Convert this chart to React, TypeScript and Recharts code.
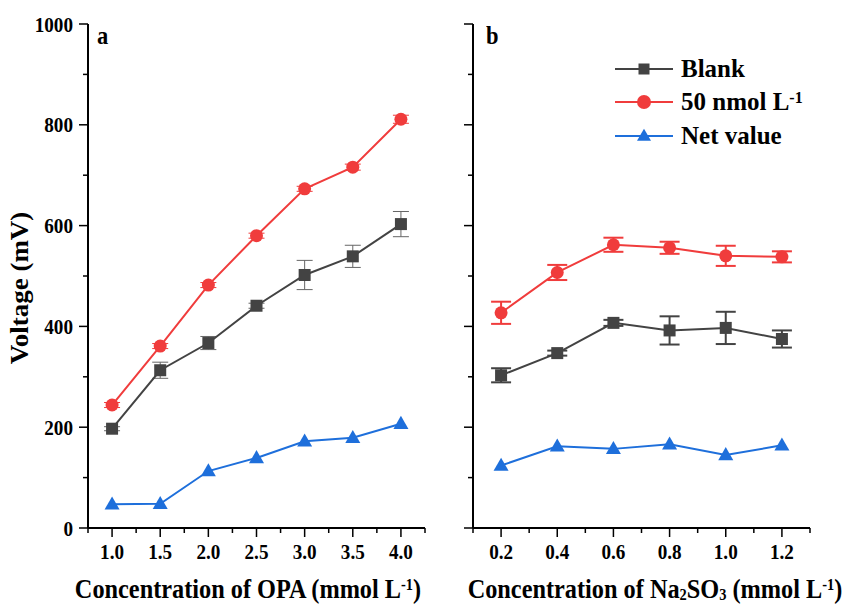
import { LineChart, Line, XAxis, YAxis, ErrorBar, Legend } from 'recharts'

const FONT = '"Liberation Serif", "Times New Roman", serif'
const GRAY = '#434343'
const RED = '#f03c3c'
const BLUE = '#1e6fdb'

// panel a: OPA concentration (mmol/L)
const opaX = [1.0, 1.5, 2.0, 2.5, 3.0, 3.5, 4.0]
const opaBlank = [197, 313, 367, 441, 502, 539, 603]
const opaBlankErr = [4, 16, 13, 5, 29, 22, 25]
const opaSignal = [244, 361, 482, 580, 673, 716, 811]
const opaSignalErr = [5, 5, 5, 5, 5, 6, 8]
const opaNet = [47, 48, 113, 139, 172, 179, 207]
const opaTicks = [0.75, 1.0, 1.25, 1.5, 1.75, 2.0, 2.25, 2.5, 2.75, 3.0, 3.25, 3.5, 3.75, 4.0, 4.25]

// panel b: Na2SO3 concentration (mmol/L)
const sulfX = [0.2, 0.4, 0.6, 0.8, 1.0, 1.2]
const sulfBlank = [303, 347, 407, 392, 397, 375]
const sulfBlankErr = [14, 5, 6, 28, 32, 17]
const sulfSignal = [427, 507, 562, 556, 540, 538]
const sulfSignalErr = [22, 15, 14, 12, 20, 11]
const sulfNet = [124, 162, 157, 166, 145, 164]
const sulfTicks = [0.1, 0.2, 0.3, 0.4, 0.5, 0.6, 0.7, 0.8, 0.9, 1.0, 1.1, 1.2, 1.3]

const yTicks = [0, 100, 200, 300, 400, 500, 600, 700, 800, 900, 1000]

const legendOrder = ['blank', 'signal', 'net']

const opaData = opaX.map((x, i) => ({
  x,
  blank: opaBlank[i],
  blankErr: opaBlankErr[i],
  signal: opaSignal[i],
  signalErr: opaSignalErr[i],
  net: opaNet[i],
}))

const sulfData = sulfX.map((x, i) => ({
  x,
  blank: sulfBlank[i],
  blankErr: sulfBlankErr[i],
  signal: sulfSignal[i],
  signalErr: sulfSignalErr[i],
  net: sulfNet[i],
}))

const Square = ({ cx, cy, fill, size = 12 }: any) =>
  cx == null ? null : <rect x={cx - size / 2} y={cy - size / 2} width={size} height={size} fill={fill} />

const Circle = ({ cx, cy, fill, size = 13 }: any) =>
  cx == null ? null : <circle cx={cx} cy={cy} r={size / 2} fill={fill} />

const Triangle = ({ cx, cy, fill, size = 15 }: any) => {
  if (cx == null) return null
  const h = size * 0.87
  return (
    <polygon
      points={`${cx},${cy - h * 0.6} ${cx - size / 2},${cy + h * 0.4} ${cx + size / 2},${cy + h * 0.4}`}
      fill={fill}
    />
  )
}

const markerFor: Record<string, any> = { blank: Square, signal: Circle, net: Triangle }

const makeXTick = (isMajor: (v: number) => boolean, fmt: (v: number) => string) =>
  (props: any) => {
    const { x, y, payload } = props
    const major = isMajor(payload.value)
    return (
      <g>
        <line x1={x} x2={x} y1={y} y2={y + (major ? 9 : 5)} stroke="#000" strokeWidth={1.5} />
        {major && (
          <text
            transform={`translate(${x},${y + 31}) scale(0.87,1)`}
            textAnchor="middle"
            fontFamily={FONT}
            fontWeight="bold"
            fontSize={22}
            fill="#000"
          >
            {fmt(payload.value)}
          </text>
        )}
      </g>
    )
  }

const makeYTick = (showLabel: boolean) => (props: any) => {
  const { x, y, payload } = props
  const major = payload.value % 200 === 0
  return (
    <g>
      <line x1={x - (major ? 9 : 5)} x2={x} y1={y} y2={y} stroke="#000" strokeWidth={1.5} />
      {showLabel && major && (
        <text
          transform={`translate(${x - 15},${y + 7.5}) scale(0.87,1)`}
          textAnchor="end"
          fontFamily={FONT}
          fontWeight="bold"
          fontSize={22}
          fill="#000"
        >
          {payload.value}
        </text>
      )}
    </g>
  )
}

const opaTick = makeXTick((v) => Math.abs(v * 2 - Math.round(v * 2)) < 1e-6, (v) => v.toFixed(1))
const sulfTick = makeXTick((v) => Math.round(v * 10) % 2 === 0, (v) => v.toFixed(1))

const supStyle: any = { fontSize: 16, verticalAlign: 'top', position: 'relative', top: -4 }
const subStyle: any = { fontSize: 16, verticalAlign: 'bottom', position: 'relative', top: 6 }

const legendLabels: Record<string, any> = {
  blank: 'Blank',
  signal: (
    <>
      50 nmol L<sup style={supStyle}>-1</sup>
    </>
  ),
  net: 'Net value',
}

const renderLegend = (props: any) => {
  const items = [...(props.payload || [])].sort(
    (a: any, b: any) => legendOrder.indexOf(a.dataKey) - legendOrder.indexOf(b.dataKey)
  )
  return (
    <div style={{ fontFamily: FONT, fontWeight: 'bold', fontSize: 25, color: '#000' }}>
      {items.map((entry: any, index: number) => {
        const Marker = markerFor[entry.dataKey]
        return (
          <div key={index} style={{ display: 'flex', alignItems: 'center', height: 33.5 }}>
            <svg width={60} height={20} style={{ marginRight: 6 }}>
              <line x1={0} x2={58} y1={10} y2={10} stroke={entry.color} strokeWidth={2} />
              <Marker cx={29} cy={10} fill={entry.color} size={entry.dataKey === 'blank' ? 11 : 14} />
            </svg>
            <span style={{ lineHeight: '30px' }}>{legendLabels[entry.dataKey]}</span>
          </div>
        )
      })}
    </div>
  )
}

const titleStyle: any = {
  position: 'absolute',
  fontFamily: FONT,
  fontWeight: 'bold',
  fontSize: 27,
  color: '#000',
  whiteSpace: 'nowrap',
  lineHeight: '30px',
}

export default function App() {
  return (
    <div style={{ position: 'absolute', left: 0, top: 0, width: 843, height: 605, background: '#fff' }}>
      <div style={{ position: 'absolute', left: 0, top: 0 }}>
        <LineChart width={430} height={605} data={opaData} margin={{ top: 24, right: 5, bottom: 0, left: 0 }}>
          <XAxis
            type="number"
            dataKey="x"
            domain={[0.75, 4.25]}
            ticks={opaTicks}
            interval={0}
            height={77}
            tickSize={0}
            tickMargin={0}
            tickLine={false}
            tick={opaTick}
            axisLine={{ stroke: '#000', strokeWidth: 2 }}
          />
          <YAxis
            type="number"
            domain={[0, 1000]}
            ticks={yTicks}
            interval={0}
            width={88}
            tickSize={0}
            tickMargin={0}
            tickLine={false}
            tick={makeYTick(true)}
            axisLine={{ stroke: '#000', strokeWidth: 2 }}
          />
          <Line
            dataKey="blank"
            stroke={GRAY}
            strokeWidth={2}
            isAnimationActive={false}
            activeDot={false}
            dot={(p: any) => <Square key={`ab-${p.index}`} cx={p.cx} cy={p.cy} fill={GRAY} />}
          >
            <ErrorBar dataKey="blankErr" direction="y" width={8} stroke="#666" strokeWidth={1} />
          </Line>
          <Line
            dataKey="signal"
            stroke={RED}
            strokeWidth={2}
            isAnimationActive={false}
            activeDot={false}
            dot={(p: any) => <Circle key={`as-${p.index}`} cx={p.cx} cy={p.cy} fill={RED} />}
          >
            <ErrorBar dataKey="signalErr" direction="y" width={8} stroke={RED} strokeWidth={1} />
          </Line>
          <Line
            dataKey="net"
            stroke={BLUE}
            strokeWidth={2}
            isAnimationActive={false}
            activeDot={false}
            dot={(p: any) => <Triangle key={`an-${p.index}`} cx={p.cx} cy={p.cy} fill={BLUE} />}
          />
        </LineChart>
      </div>

      <div style={{ position: 'absolute', left: 430, top: 0 }}>
        <LineChart width={413} height={605} data={sulfData} margin={{ top: 24, right: 33, bottom: 0, left: 0 }}>
          <XAxis
            type="number"
            dataKey="x"
            domain={[0.1, 1.3]}
            ticks={sulfTicks}
            interval={0}
            height={77}
            tickSize={0}
            tickMargin={0}
            tickLine={false}
            tick={sulfTick}
            axisLine={{ stroke: '#000', strokeWidth: 2 }}
          />
          <YAxis
            type="number"
            domain={[0, 1000]}
            ticks={yTicks}
            interval={0}
            width={43}
            tickSize={0}
            tickMargin={0}
            tickLine={false}
            tick={makeYTick(false)}
            axisLine={{ stroke: '#000', strokeWidth: 2 }}
          />
          <Line
            dataKey="blank"
            name="Blank"
            stroke={GRAY}
            strokeWidth={2}
            isAnimationActive={false}
            activeDot={false}
            dot={(p: any) => <Square key={`bb-${p.index}`} cx={p.cx} cy={p.cy} fill={GRAY} />}
          >
            <ErrorBar dataKey="blankErr" direction="y" width={10} stroke={GRAY} strokeWidth={2} />
          </Line>
          <Line
            dataKey="signal"
            name="50 nmol L-1"
            stroke={RED}
            strokeWidth={2}
            isAnimationActive={false}
            activeDot={false}
            dot={(p: any) => <Circle key={`bs-${p.index}`} cx={p.cx} cy={p.cy} fill={RED} />}
          >
            <ErrorBar dataKey="signalErr" direction="y" width={10} stroke={RED} strokeWidth={2} />
          </Line>
          <Line
            dataKey="net"
            name="Net value"
            stroke={BLUE}
            strokeWidth={2}
            isAnimationActive={false}
            activeDot={false}
            dot={(p: any) => <Triangle key={`bn-${p.index}`} cx={p.cx} cy={p.cy} fill={BLUE} />}
          />
          <Legend
            layout="vertical"
            align="center"
            verticalAlign="middle"
            content={renderLegend}
            wrapperStyle={{ left: 185, top: 52, width: 'auto', height: 'auto' }}
          />
        </LineChart>
      </div>

      <div style={{ ...titleStyle, left: 97, top: 21, fontSize: 25, transform: 'scaleX(0.9)', transformOrigin: 'left' }}>a</div>
      <div style={{ ...titleStyle, left: 486, top: 21, fontSize: 25, transform: 'scaleX(0.9)', transformOrigin: 'left' }}>b</div>

      <div style={{ ...titleStyle, left: 248, top: 574, transform: 'translateX(-50%) scaleX(0.9)' }}>
        Concentration of OPA (mmol L<sup style={supStyle}>-1</sup>)
      </div>
      <div style={{ ...titleStyle, left: 655, top: 574, transform: 'translateX(-50%) scaleX(0.9)' }}>
        Concentration of Na<sub style={subStyle}>2</sub>SO<sub style={subStyle}>3</sub> (mmol L
        <sup style={supStyle}>-1</sup>)
      </div>
      <div
        style={{
          ...titleStyle,
          left: 20,
          top: 288,
          transform: 'translate(-50%, -50%) rotate(-90deg) scaleY(0.9)',
        }}
      >
        Voltage (mV)
      </div>
    </div>
  )
}
